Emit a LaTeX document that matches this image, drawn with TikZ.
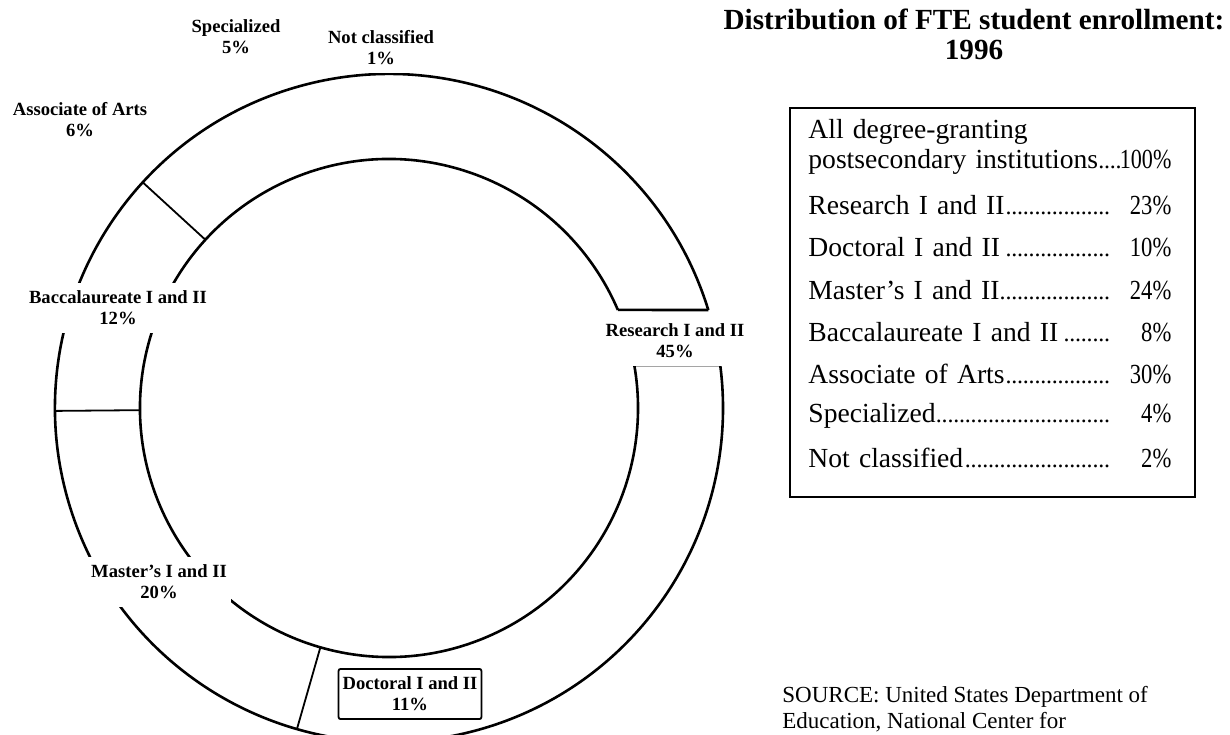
\documentclass[tikz,border=0pt]{standalone}
\usepackage{fontspec}
\usepackage{graphicx}
\setmainfont{Liberation Serif}
\usetikzlibrary{positioning}

\newcommand{\pielabelfont}{\fontsize{9.3}{10.5}\selectfont\bfseries}
\newcommand{\tablefont}{\fontsize{13.8}{15}\selectfont}
\newcommand{\titlefont}{\fontsize{14.6}{15}\selectfont\bfseries}
\newcommand{\sourcefont}{\fontsize{11.5}{13}\selectfont}
\newcommand{\leaderdots}{\leaders\hbox to 2.9pt{\hss{\fontsize{12}{12}\selectfont.}\hss}\hfill}
\newcommand{\pct}[1]{\makebox[29.5pt][r]{\scalebox{0.82}[1]{#1}}}

\tikzset{
  ring/.style={line width=1.3pt},
  divider/.style={line width=0.9pt},
  pielabel/.style={font=\pielabelfont, align=center, fill=white, inner xsep=2pt, inner ysep=4pt},
  tablerow/.style={font=\tablefont, text width=181.5pt, align=left, anchor=west, inner sep=0pt}
}

\begin{document}
\begin{tikzpicture}[x=0.5pt, y=0.5pt]
    \useasboundingbox (0,0) rectangle (1230,734);
    \clip (0,0) rectangle (1230,734);
    \coordinate (c) at (389,326);

    % ring, broken open at the research slice
    \draw[ring] ([shift={(17.06:334)}]c) arc[start angle=17.06, end angle=367.4, radius=334];
    \draw[ring] ([shift={(23.2:249)}]c) arc[start angle=23.2, end angle=369.9, radius=249];

    \coordinate (capouter) at ([shift={(17.06:334)}]c);
    \coordinate (capinner) at ([shift={(23.2:249)}]c);
    \draw[ring] (capouter) -- (capinner);

    \coordinate (resouter) at ([shift={(7.4:334)}]c);
    \coordinate (resinner) at ([shift={(9.9:249)}]c);
    \draw[ring] (resouter) -- (resinner);

    % slice borders
    \draw[divider] ([shift={(137.5:249)}]c) -- ([shift={(137.5:334)}]c);
    \draw[divider] ([shift={(180.5:249)}]c) -- ([shift={(180.5:334)}]c);
    \draw[divider] ([shift={(254:249)}]c) -- ([shift={(254:334)}]c);

    % slice labels
    \node[pielabel] (assoc) at (80,614) {Associate of Arts\\6\%};
    \node[pielabel] (spec) at (236,697) {Specialized\\5\%};
    \node[pielabel] (notcl) at (381,686) {Not classified\\1\%};
    \node[pielabel] (bacc) at (118,426) {Baccalaureate I and II\\12\%};
    \node[pielabel] (master) at (159,152) {Master's I and II\\20\%};
    \node[pielabel] (research) at (675,393) {Research I and II\\45\%};
    \node[pielabel, draw, line width=0.9pt, rounded corners=1pt] (doctoral) at (410,40) {Doctoral I and II\\11\%};

    % title
    \node[font=\titlefont, align=center] (title) at (974,700) {Distribution of FTE student enrollment:\\1996};

    % table
    \draw[line width=1pt] (790,626) rectangle (1195,237);
    \node[tablerow] (rowall) at (808,587) {All degree-granting\\postsecondary institutions\leaderdots\makebox[24pt][r]{\scalebox{0.8}[1]{100\%}}};
    \node[tablerow] (rowres) at (808,529) {Research I and II\leaderdots\pct{23\%}};
    \node[tablerow] (rowdoc) at (808,487) {Doctoral I and II\leaderdots\pct{10\%}};
    \node[tablerow] (rowmas) at (808,444) {Master's I and II\leaderdots\pct{24\%}};
    \node[tablerow] (rowbac) at (808,402) {Baccalaureate I and II\leaderdots\pct{8\%}};
    \node[tablerow] (rowass) at (808,360) {Associate of Arts\leaderdots\pct{30\%}};
    \node[tablerow] (rowspe) at (808,318) {Specialized\leaderdots\pct{4\%}};
    \node[tablerow] (rownot) at (808,276) {Not classified\leaderdots\pct{2\%}};

    % source note
    \node[font=\sourcefont, align=left, anchor=north west, inner sep=0pt] (source) at (782,48)
      {SOURCE: United States Department of\\Education, National Center for};
\end{tikzpicture}
\end{document}
